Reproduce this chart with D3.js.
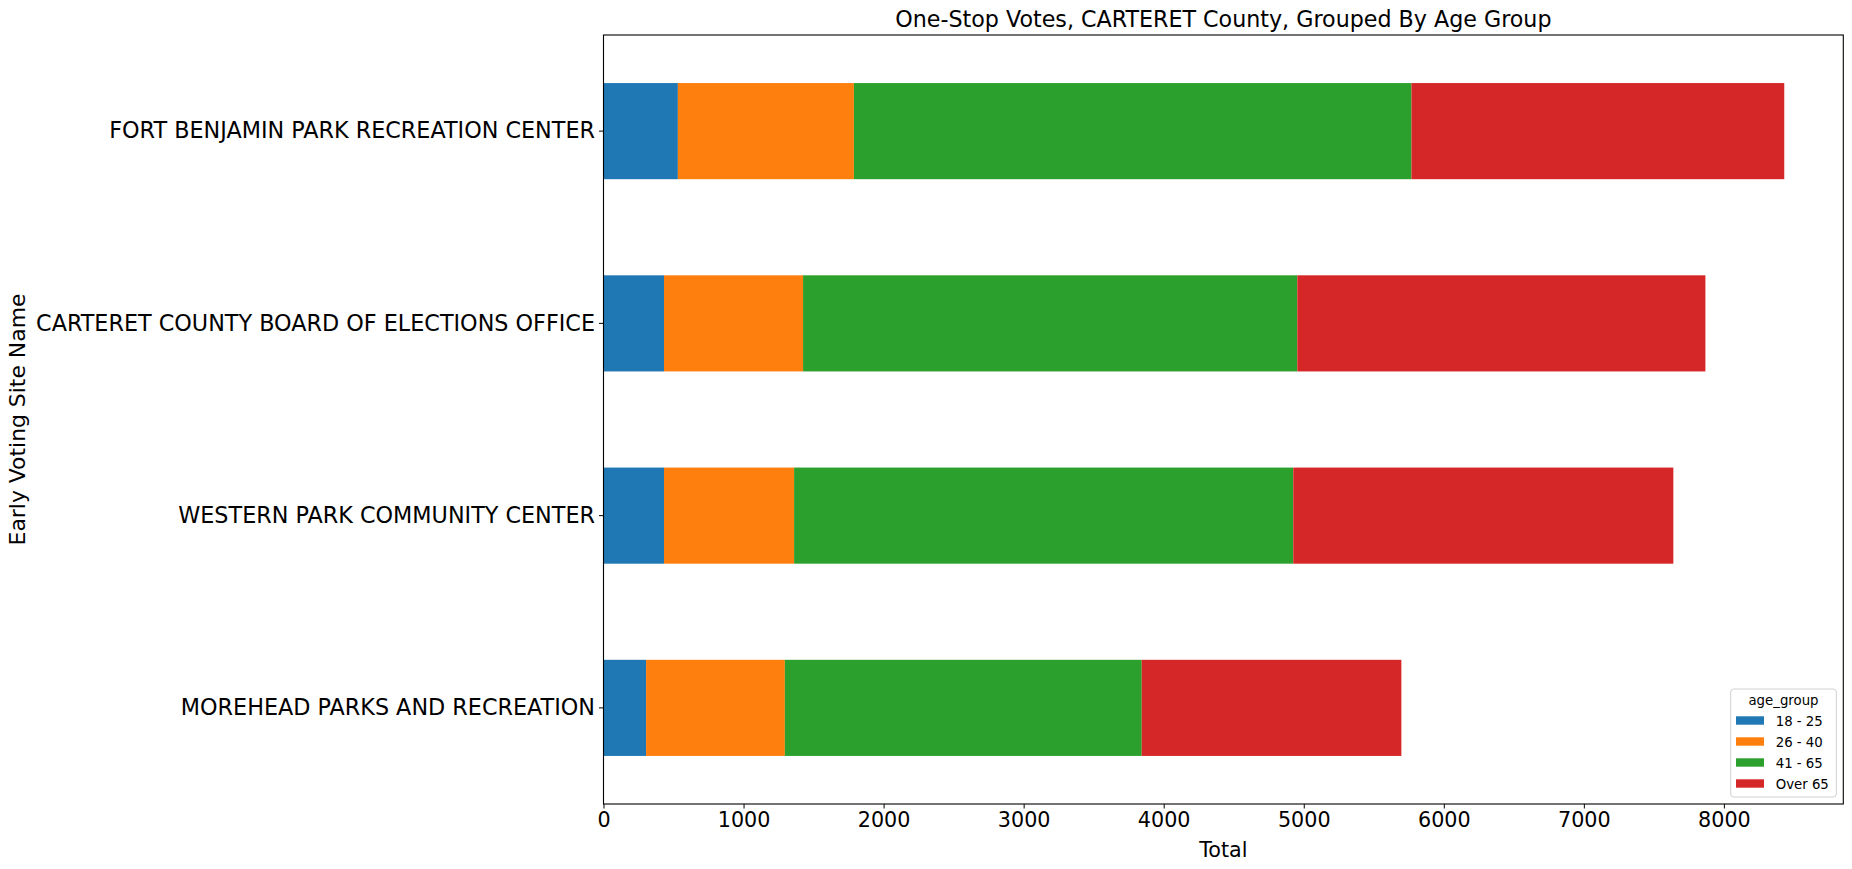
<!DOCTYPE html>
<html>
<head>
<meta charset="utf-8">
<script src="https://cdn.jsdelivr.net/npm/d3@7"></script>
<style>
  html, body { margin: 0; padding: 0; background: #fff; }
  svg { display: block; font-family: "DejaVu Sans", sans-serif; }
</style>
</head>
<body>
<svg id="chart" width="1852" height="869"></svg>
<script>
// ---- data ----
const sites = [
  "FORT BENJAMIN PARK RECREATION CENTER",
  "CARTERET COUNTY BOARD OF ELECTIONS OFFICE",
  "WESTERN PARK COMMUNITY CENTER",
  "MOREHEAD PARKS AND RECREATION"
];
const ageGroups = ["18 - 25", "26 - 40", "41 - 65", "Over 65"];
const age18to25 = [531, 432, 432, 304];
const age26to40 = [1257, 993, 929, 991];
const age41to65 = [3981, 3529, 3564, 2548];
const ageOver65 = [2662, 2914, 2714, 1854];
const xTicks = [0, 1000, 2000, 3000, 4000, 5000, 6000, 7000, 8000];
const colors = ["#1f77b4", "#ff7f0e", "#2ca02c", "#d62728"];

(function () {
const seriesValues = [age18to25, age26to40, age41to65, ageOver65];
const rows = sites.map((s, i) => {
  const r = { site: s };
  ageGroups.forEach((g, j) => { r[g] = seriesValues[j][i]; });
  return r;
});

// ---- layout ----
const svg = d3.select("#chart");
const mLeft = 603.5, mRight = 1843.3, mTop = 35, mBottom = 804;
const fsX = 20.7, fsY = 22.3, fsTitle = 22.2, fsYLabel = 21.9;

const maxTotal = d3.max(rows, r => ageGroups.reduce((a, g) => a + r[g], 0));
const x = d3.scaleLinear().domain([0, maxTotal * 1.05]).range([mLeft, mRight]);
const y = d3.scaleBand().domain(sites).range([mTop, mBottom]).paddingInner(0.5).paddingOuter(0.25);

const stack = d3.stack().keys(ageGroups)(rows);

const g = svg.append("g");
stack.forEach((layer, j) => {
  g.selectAll(null).data(layer).enter().append("rect")
    .attr("x", d => x(d[0]))
    .attr("width", d => x(d[1]) - x(d[0]))
    .attr("y", d => y(d.data.site))
    .attr("height", y.bandwidth())
    .attr("fill", colors[j]);
});

// axes
const xAxis = d3.axisBottom(x).tickValues(xTicks).tickFormat(d3.format("d")).tickSizeOuter(0).tickSize(4.5).tickPadding(4);
const gx = svg.append("g").attr("transform", `translate(0,${mBottom})`).call(xAxis);
gx.select(".domain").remove();
gx.selectAll("text").attr("font-size", fsX).attr("font-family", "DejaVu Sans").attr("fill", "#000");
gx.selectAll("line").attr("stroke", "#000").attr("stroke-width", 1);

const yAxis = d3.axisLeft(y).tickSizeOuter(0).tickSize(4.5).tickPadding(4);
const gy = svg.append("g").attr("transform", `translate(${mLeft},0)`).call(yAxis);
gy.select(".domain").remove();
gy.selectAll("text").attr("font-size", fsY).attr("font-family", "DejaVu Sans").attr("fill", "#000");
gy.selectAll("line").attr("stroke", "#000").attr("stroke-width", 1);

// spines
svg.append("rect")
  .attr("x", mLeft).attr("y", mTop)
  .attr("width", mRight - mLeft).attr("height", mBottom - mTop)
  .attr("fill", "none").attr("stroke", "#000").attr("stroke-width", 1.1);

// titles
svg.append("text")
  .attr("x", (mLeft + mRight) / 2).attr("y", 27)
  .attr("text-anchor", "middle").attr("font-size", fsTitle).attr("fill", "#000")
  .text("One-Stop Votes, CARTERET County, Grouped By Age Group");

svg.append("text")
  .attr("x", (mLeft + mRight) / 2).attr("y", 857)
  .attr("text-anchor", "middle").attr("font-size", fsX).attr("fill", "#000")
  .text("Total");

svg.append("text")
  .attr("transform", `translate(25,${(mTop + mBottom) / 2}) rotate(-90)`)
  .attr("text-anchor", "middle").attr("font-size", fsYLabel).attr("fill", "#000")
  .text("Early Voting Site Name");

// legend
const lg = svg.append("g");
lg.append("rect")
  .attr("x", 1730.7).attr("y", 689).attr("width", 105.6).attr("height", 108)
  .attr("rx", 3).attr("fill", "#fff").attr("fill-opacity", 0.8)
  .attr("stroke", "#d0d0d0").attr("stroke-width", 1);
lg.append("text")
  .attr("x", 1783.5).attr("y", 705)
  .attr("text-anchor", "middle").attr("font-size", 13.3).attr("fill", "#000")
  .text("age_group");
ageGroups.forEach((grp, j) => {
  lg.append("rect")
    .attr("x", 1736).attr("y", 716.3 + j * 21)
    .attr("width", 28).attr("height", 8.4)
    .attr("fill", colors[j]);
  lg.append("text")
    .attr("x", 1775.7).attr("y", 726 + j * 21)
    .attr("font-size", 13.3).attr("fill", "#000")
    .text(grp);
});
})();
</script>
</body>
</html>
